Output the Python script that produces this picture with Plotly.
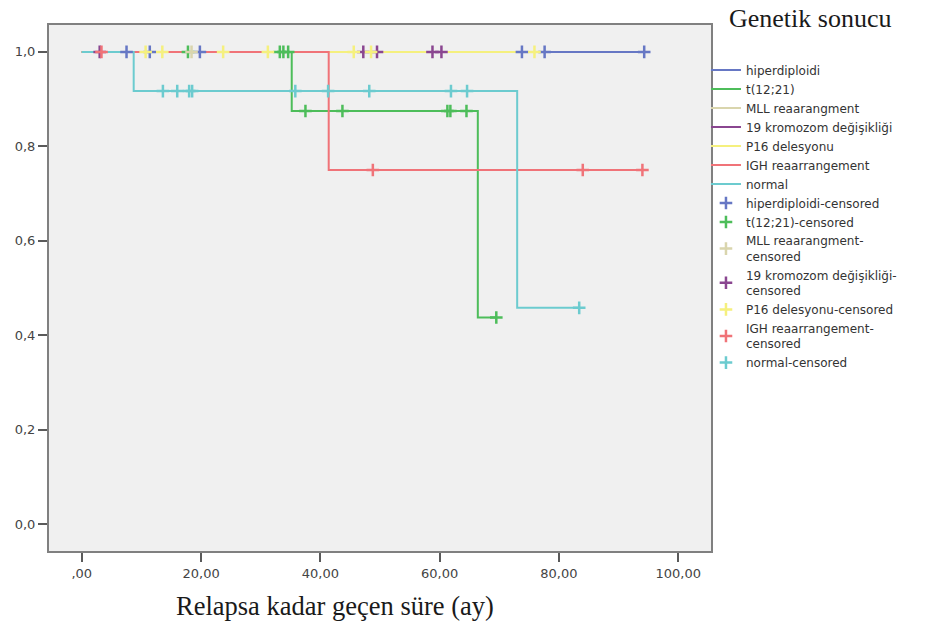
import plotly.graph_objects as go

# ---- data ----
groups = ["hiperdiploidi", "t(12;21)", "MLL reaarangment", "19 kromozom değişikliği",
          "P16 delesyonu", "IGH reaarrangement", "normal"]
censor_labels = ["hiperdiploidi-censored", "t(12;21)-censored", "MLL reaarangment-<br>censored",
                 "19 kromozom değişikliği-<br>censored", "P16 delesyonu-censored",
                 "IGH reaarrangement-<br>censored", "normal-censored"]
colors = ["#6677c4", "#4dbd5a", "#d9d5ad", "#8a4690", "#f5f07e", "#f07378", "#6ccbcf"]

# step curve knots (time in months, survival)
curve_t = {
    "hiperdiploidi": [0, 94.3],
    "t(12;21)": [0, 35.2, 66.4, 69.5],
    "MLL reaarangment": [0, 18.4],
    "19 kromozom değişikliği": [0, 60.3],
    "P16 delesyonu": [0, 75.9],
    "IGH reaarrangement": [0, 41.4, 94.0],
    "normal": [0, 8.7, 73.0, 83.4],
}
curve_s = {
    "hiperdiploidi": [1.0, 1.0],
    "t(12;21)": [1.0, 0.875, 0.4375, 0.4375],
    "MLL reaarangment": [1.0, 1.0],
    "19 kromozom değişikliği": [1.0, 1.0],
    "P16 delesyonu": [1.0, 1.0],
    "IGH reaarrangement": [1.0, 0.75, 0.75],
    "normal": [1.0, 0.917, 0.458, 0.458],
}
# censored times
censored = {
    "hiperdiploidi": [7.5, 11.4, 19.8, 73.8, 77.6, 94.3],
    "t(12;21)": [17.8, 33.2, 33.8, 34.6, 37.5, 43.7, 61.3, 61.8, 64.5, 69.5],
    "MLL reaarangment": [18.4],
    "19 kromozom değişikliği": [3.0, 47.2, 49.5, 58.8, 60.3],
    "P16 delesyonu": [10.7, 13.5, 23.7, 31.2, 45.6, 48.5, 75.9],
    "IGH reaarrangement": [3.3, 48.8, 84.0, 94.0],
    "normal": [13.6, 16.0, 18.0, 18.5, 35.8, 41.3, 48.2, 61.9, 64.6, 83.4],
}

x_tickvals = [0, 20, 40, 60, 80, 100]
x_ticktext = [",00", "20,00", "40,00", "60,00", "80,00", "100,00"]
y_tickvals = [0.0, 0.2, 0.4, 0.6, 0.8, 1.0]
y_ticktext = ["0,0", "0,2", "0,4", "0,6", "0,8", "1,0"]


def step_value(ts, ss, t):
    v = ss[0]
    for ti, si in zip(ts, ss):
        if ti <= t:
            v = si
    return v


fig = go.Figure()
for g, c in zip(groups, colors):
    fig.add_trace(go.Scatter(x=curve_t[g], y=curve_s[g], mode="lines", line_shape="hv",
                             line=dict(color=c, width=2), name=g))
for g, lab, c in zip(groups, censor_labels, colors):
    ys = [step_value(curve_t[g], curve_s[g], t) for t in censored[g]]
    fig.add_trace(go.Scatter(x=censored[g], y=ys, mode="markers", name=lab,
                             marker=dict(symbol="cross-thin-open", size=9, color=c,
                                         line=dict(color=c, width=2.5))))

axis_common = dict(showline=True, linecolor="#808080", linewidth=2, mirror=True,
                   ticks="outside", ticklen=9, tickwidth=2, tickcolor="#5a5a5a",
                   showgrid=False, zeroline=False,
                   tickfont=dict(family="DejaVu Sans", size=13, color="#444444"))

fig.update_layout(
    width=951, height=627,
    margin=dict(l=49, r=240, t=25, b=76),
    paper_bgcolor="white", plot_bgcolor="#f0f0f0",
    xaxis=dict(range=[-5.5, 105.5], tickvals=x_tickvals, ticktext=x_ticktext, **axis_common),
    yaxis=dict(range=[-0.057, 1.057], tickvals=y_tickvals, ticktext=y_ticktext, **axis_common),
    legend=dict(x=0.9924, xanchor="left", y=0.942, yanchor="top",
                font=dict(family="DejaVu Sans", size=12, color="#333333"),
                bgcolor="rgba(0,0,0,0)", tracegroupgap=0, itemwidth=30),
    showlegend=True,
    annotations=[
        dict(text="Genetik sonucu", xref="paper", yref="paper", x=1.0235, y=1.013,
             xanchor="left", yanchor="middle", showarrow=False,
             font=dict(family="Liberation Serif, Times New Roman", size=26, color="#1a1a1a")),
        dict(text="Relapsa kadar geçen süre (ay)", xref="paper", yref="paper", x=0.432, y=-0.105,
             xanchor="center", yanchor="middle", showarrow=False,
             font=dict(family="Liberation Serif, Times New Roman", size=26.5, color="#1a1a1a")),
    ],
)

fig.write_html("out.html")
